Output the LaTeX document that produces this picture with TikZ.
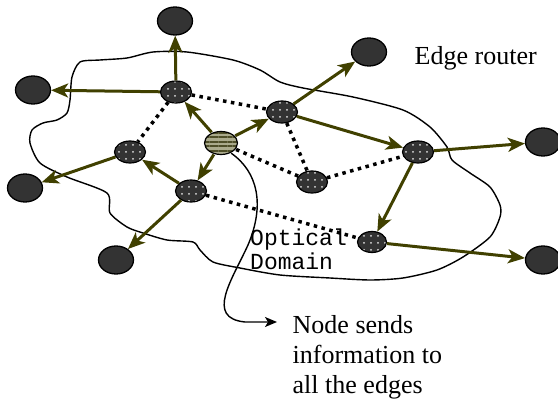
\documentclass[tikz,border=0pt]{standalone}
\usepackage{fontspec}
\setmainfont{Liberation Serif}
\setmonofont{Liberation Mono}
\usetikzlibrary{arrows.meta,patterns.meta,shapes.geometric}
\definecolor{olivearr}{RGB}{64,64,0}
\definecolor{nodegray}{RGB}{51,51,51}
\definecolor{stripelight}{RGB}{170,170,140}
\definecolor{stripedark}{RGB}{78,78,40}
\begin{document}
\begin{tikzpicture}[x=1pt,y=-1pt,
  edgerouter/.style={ellipse, draw=black, line width=1.3pt, fill=nodegray,
    minimum width=35pt, minimum height=28pt, inner sep=0pt},
  corenode/.style={ellipse, draw=black, line width=1.2pt, preaction={fill=nodegray},
    pattern={Dots[distance=7pt, radius=1pt]}, pattern color=white!75!gray,
    minimum width=31pt, minimum height=22pt, inner sep=0pt},
  srcnode/.style={ellipse, draw=black, line width=1.2pt, preaction={fill=stripelight},
    pattern={Lines[angle=0, distance=4.6pt, line width=2.2pt]}, pattern color=stripedark,
    minimum width=33pt, minimum height=23pt, inner sep=0pt},
  flow/.style={draw=olivearr, line width=3pt, -{Stealth[length=17pt,width=14pt,inset=4.5pt]}},
  link/.style={draw=black, line width=3.5pt, dash pattern=on 3.5pt off 4.5pt},
  pointer/.style={draw=black, line width=1.4pt, -{Stealth[length=12pt,width=10pt,inset=3pt]}},
  serif/.style={font=\fontsize{26}{30}\selectfont, inner sep=0pt},
  mono/.style={font=\ttfamily\fontsize{23}{24}\selectfont, inner sep=0pt}
]
\useasboundingbox (0,0) rectangle (558,404);

% optical domain outline
\draw[line width=1.4pt] plot[smooth cycle, tension=0.45] coordinates {
  (72,77) (80,62) (100,60) (127,58) (153,52) (187,52) (233,60) (260,70) (280,82)
  (303,88) (353,97) (403,110) (430,127) (447,147) (452,160) (470,173) (490,187)
  (500,205) (500,217) (490,237) (463,257) (437,270) (403,278) (370,280) (330,278)
  (280,275) (240,268) (213,262) (200,250) (193,242) (167,240) (143,233) (127,227)
  (110,213) (107,193) (67,177) (40,163) (30,143) (32,130) (43,123) (57,120) (67,113) (70,100)};

% edge routers
\node[edgerouter] (E1) at (175,21) {};
\node[edgerouter] (E2) at (33,90) {};
\node[edgerouter] (E3) at (25,188) {};
\node[edgerouter] (E4) at (116,260) {};
\node[edgerouter] (E5) at (369,52) {};
\node[edgerouter] (E6) at (543,142) {};
\node[edgerouter] (E7) at (543,260) {};

% core nodes
\node[corenode] (A) at (176,92) {};
\node[corenode] (B) at (130,152) {};
\node[srcnode]  (C) at (221,143) {};
\node[corenode] (D) at (191,191) {};
\node[corenode] (F) at (282,112) {};
\node[corenode] (G) at (312,182) {};
\node[corenode] (H) at (418,152) {};
\node[corenode, minimum width=29pt, minimum height=21pt] (I) at (372,242) {};

% dotted links
\draw[link] (A) -- (B);
\draw[link] (A) -- (F);
\draw[link] (C) -- (G);
\draw[link] (F) -- (G);
\draw[link] (G) -- (H);
\draw[link] (D) -- (I);

% flows
\draw[flow] (A) -- (E1);
\draw[flow] (A) -- (E2);
\draw[flow] (B) -- (E3);
\draw[flow] (C) -- (A);
\draw[flow] (C) -- (F);
\draw[flow] (C) -- (D);
\draw[flow] (D) -- (B);
\draw[flow] (D) -- (E4);
\draw[flow] (F) -- (E5);
\draw[flow] (F) -- (H);
\draw[flow] (H) -- (E6);
\draw[flow] (H) -- (I);
\draw[flow] (I) -- (E7);

% texts
\node[serif, anchor=base west] (er) at (414.5,65) {Edge router};
\node[mono, anchor=north west, align=left] (od) at (250,228.5) {Optical\\Domain};
\node[serif, anchor=north west, align=left] (ns) at (292.5,315.5) {Node sends\\information to\\all the edges};

% pointer
\coordinate (ptr) at (277,322);
\draw[pointer] (C.-45) .. controls (258,172) and (265,205) .. (248,245)
  .. controls (232,280) and (205,318) .. (245,322) -- (ptr);
\end{tikzpicture}
\end{document}
